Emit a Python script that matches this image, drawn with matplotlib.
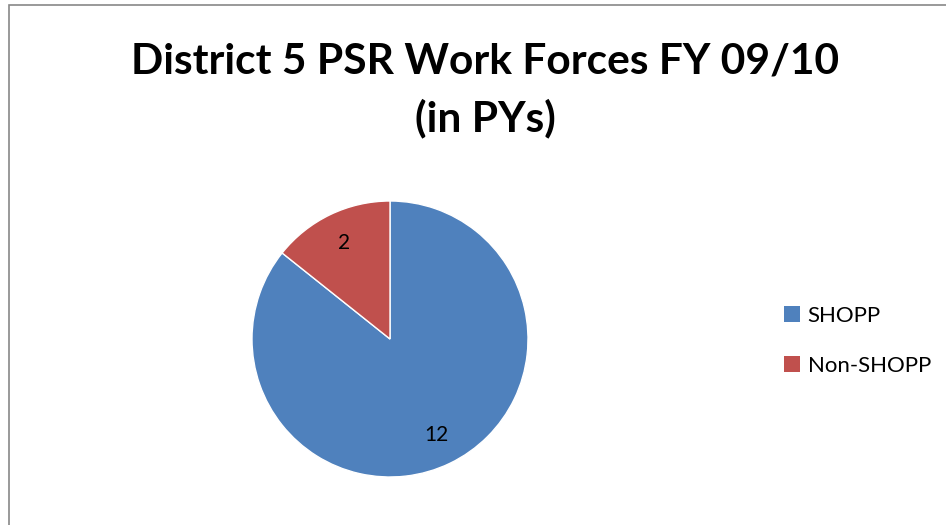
import matplotlib.pyplot as plt
from matplotlib.patches import Rectangle, Patch

# data
categories = ['SHOPP', 'Non-SHOPP']
values = [12, 2]
colors = ['#4F81BD', '#C0504D']
title = 'District 5 PSR Work Forces FY 09/10\n(in PYs)'

plt.rcParams['font.family'] = ['Lato', 'DejaVu Sans']

W, H = 946, 525
fig = plt.figure(figsize=(W / 100, H / 100), dpi=100)

# chart border
fig.patches.append(Rectangle((9 / W, -0.1), 1.2, (525 - 5) / H + 0.1,
                             transform=fig.transFigure, fill=False,
                             edgecolor='#888888', linewidth=1.2))

# pie: center (390, 339), radius 138 px
cx, cy, r = 390, 339, 138
ax = fig.add_axes([(cx - r) / W, (H - cy - r) / H, 2 * r / W, 2 * r / H])
wedges, texts = ax.pie(values, colors=colors, startangle=90, counterclock=False,
                       labels=[str(v) for v in values], labeldistance=0.77,
                       wedgeprops=dict(edgecolor='white', linewidth=1),
                       textprops=dict(fontsize=15, color='black'))
for t in texts:
    t.set_horizontalalignment('center')
ax.set_xlim(-1, 1)
ax.set_ylim(-1, 1)

fig.text(485 / W, 1 - 90 / H, title, ha='center', va='center',
         fontsize=30.6, fontweight='bold', linespacing=1.55)

handles = [Patch(facecolor=c) for c in colors]
fig.legend(handles, categories, loc='upper left',
           bbox_to_anchor=(784 / W, 1 - 306 / H), frameon=False,
           fontsize=16, handlelength=0.72, handleheight=0.72,
           handletextpad=0.35, labelspacing=1.34, borderpad=0,
           borderaxespad=0)

fig.savefig('out.png', dpi=100)
